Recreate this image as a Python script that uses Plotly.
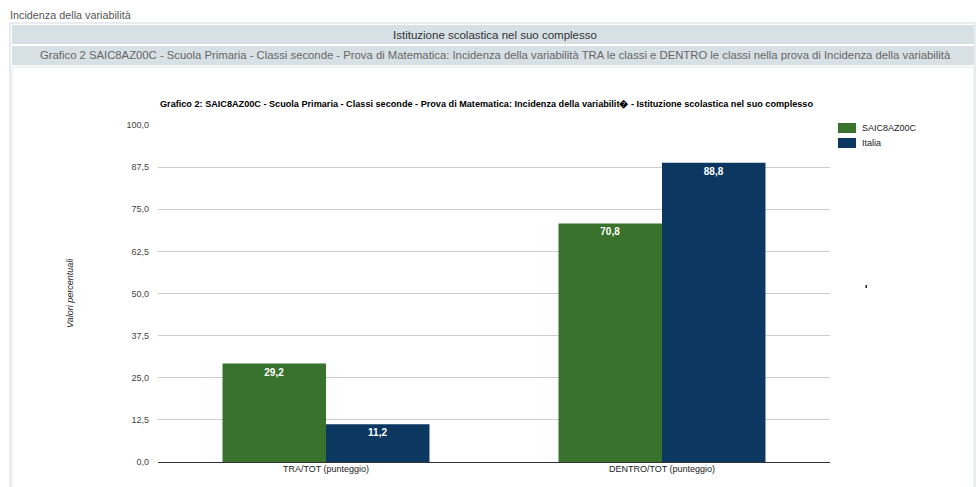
import plotly.graph_objects as go

categories = ["TRA/TOT (punteggio)", "DENTRO/TOT (punteggio)"]
series_names = ["SAIC8AZ00C", "Italia"]
values_school = [29.2, 70.8]
values_italia = [11.2, 88.8]
tick_vals = [0, 12.5, 25, 37.5, 50, 62.5, 75, 87.5, 100]
colors = ["#38722c", "#0b3760"]

W, H = 978, 487
L, R, T, B = 158, 830, 125, 462  # plot area in px

def px(x):
    return (x - L) / (R - L)

def py(y):
    return (B - y) / (B - T)

fig = go.Figure()
for name, vals, col in zip(series_names, [values_school, values_italia], colors):
    fig.add_trace(go.Bar(
        x=categories, y=vals, name=name, marker=dict(color=col, line=dict(width=0)),
        texttemplate="<b>%{y:.1f}</b>",
        textposition="inside", insidetextanchor="end",
        textfont=dict(color="white", size=10, family="Arial"),
        showlegend=False,
    ))

shapes = []
line_c = "#d3d9dd"
# outer frame
shapes.append(dict(type="rect", xref="paper", yref="paper", x0=px(10), x1=px(975), y0=py(489), y1=py(23),
                   line=dict(color=line_c, width=1), fillcolor="white", layer="below"))
# header rows
shapes.append(dict(type="rect", xref="paper", yref="paper", x0=px(12), x1=px(974), y0=py(44), y1=py(25),
                   line=dict(width=0), fillcolor="#d6e0e5", layer="below"))
shapes.append(dict(type="rect", xref="paper", yref="paper", x0=px(12), x1=px(974), y0=py(65), y1=py(46),
                   line=dict(width=0), fillcolor="#d6e0e5", layer="below"))
# chart box
shapes.append(dict(type="rect", xref="paper", yref="paper", x0=px(12), x1=px(974), y0=py(489), y1=py(67),
                   line=dict(color="#e4e8ea", width=1), fillcolor="white", layer="below"))
# legend swatches
for i, col in enumerate(colors):
    yc = 128 + i * 15
    shapes.append(dict(type="rect", xref="paper", yref="paper", x0=px(838), x1=px(856),
                       y0=py(yc + 5), y1=py(yc - 5), line=dict(width=0), fillcolor=col))
# small stray mark
shapes.append(dict(type="rect", xref="paper", yref="paper", x0=px(865.5), x1=px(867), y0=py(288), y1=py(285),
                   line=dict(width=0), fillcolor="#222"))

annotations = [
    dict(text="Incidenza della variabilità", x=px(8), y=py(15), xref="paper", yref="paper",
         xanchor="left", yanchor="middle", showarrow=False, font=dict(size=10.8, color="#555", family="Arial")),
    dict(text="Istituzione scolastica nel suo complesso", x=px(495), y=py(35), xref="paper", yref="paper",
         xanchor="center", yanchor="middle", showarrow=False, font=dict(size=11.5, color="#333", family="Arial")),
    dict(text="Grafico 2 SAIC8AZ00C - Scuola Primaria - Classi seconde - Prova di Matematica: Incidenza della variabilità TRA le classi e DENTRO le classi nella prova di Incidenza della variabilità",
         x=px(495), y=py(55), xref="paper", yref="paper",
         xanchor="center", yanchor="middle", showarrow=False, font=dict(size=11.3, color="#666", family="Arial")),
    dict(text="<b>Grafico 2: SAIC8AZ00C - Scuola Primaria - Classi seconde - Prova di Matematica: Incidenza della variabilit\ufffd - Istituzione scolastica nel suo complesso</b>",
         x=px(158), y=py(104), xref="paper", yref="paper",
         xanchor="left", yanchor="middle", showarrow=False, font=dict(size=9.15, color="#000", family="Arial")),
    dict(text="<i>Valori percentuali</i>", x=px(70), y=py(293), xref="paper", yref="paper", textangle=-90,
         xanchor="center", yanchor="middle", showarrow=False, font=dict(size=9, color="#222", family="Arial")),
]
for i, name in enumerate(series_names):
    annotations.append(dict(text=name, x=px(860), y=py(128 + i * 15), xref="paper", yref="paper",
                            xanchor="left", yanchor="middle", showarrow=False,
                            font=dict(size=9, color="#222", family="Arial")))

fig.update_layout(
    width=W, height=H,
    margin=dict(l=L, r=W - R, t=T, b=H - B, pad=0),
    paper_bgcolor="white", plot_bgcolor="white",
    separators=",.",
    barmode="group", bargap=0.384, bargroupgap=0.0,
    font=dict(family="Arial", size=9, color="#444"),
    shapes=shapes, annotations=annotations,
    xaxis=dict(showgrid=False, showline=False, ticks="", tickfont=dict(size=9, color="#222"),
               zeroline=False, fixedrange=True),
    yaxis=dict(range=[0, 100], tickvals=tick_vals, tickformat=".1f", showgrid=True, gridcolor="#cccccc",
               gridwidth=1, zeroline=True, zerolinecolor="#333333", zerolinewidth=1,
               tickfont=dict(size=9, color="#444"), ticklabelstandoff=8, showline=False),
    showlegend=False,
)

fig.write_html("out.html")
